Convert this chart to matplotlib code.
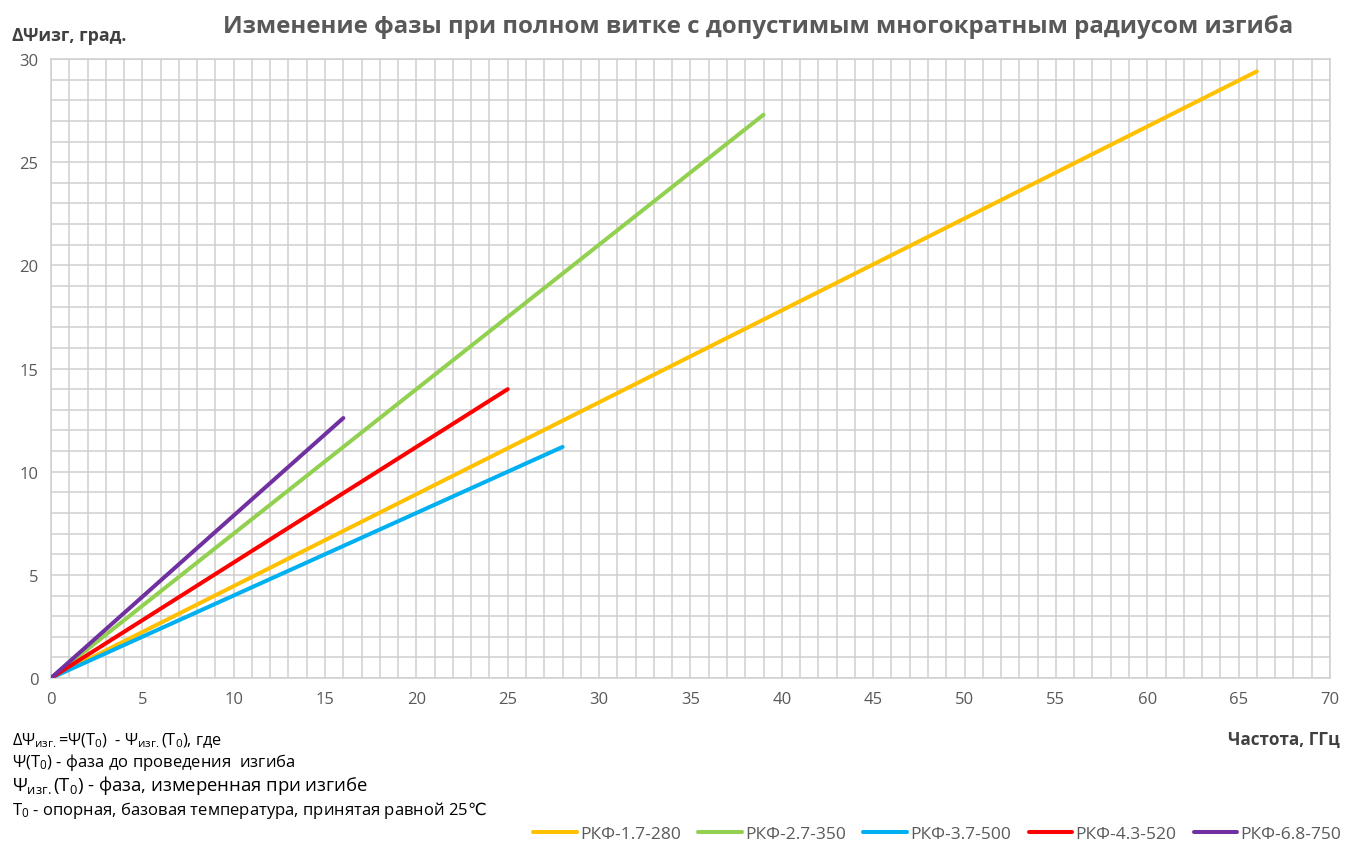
import matplotlib.pyplot as plt
from matplotlib.ticker import MultipleLocator

plt.rcParams['font.family'] = ['Open Sans', 'DejaVu Sans']

# =====================================================
# Data
# =====================================================

names = ['РКФ-1.7-280', 'РКФ-2.7-350', 'РКФ-3.7-500', 'РКФ-4.3-520', 'РКФ-6.8-750']
freq = [[0, 66], [0, 39], [0, 28], [0, 25], [0, 16]]
phase = [[0, 29.4], [0, 27.3], [0, 11.2], [0, 14.0], [0, 12.6]]
colors = ['#FFC000', '#92D050', '#00B0F0', '#FF0000', '#7030A0']

x_ticks = list(range(0, 71, 5))
y_ticks = list(range(0, 31, 5))

# =====================================================
# Plot
# =====================================================

fig = plt.figure(figsize=(13.52, 8.45), dpi=100)
ax = fig.add_axes([0.0377, 0.1964, 0.946, 0.7326])

for fx, ph, name, c in zip(freq, phase, names, colors):
    ax.plot(fx, ph, color=c, linewidth=2.9, label=name,
            solid_capstyle='round', zorder=3)

ax.set_xlim(0, 70)
ax.set_ylim(0, 30)
ax.set_xticks(x_ticks)
ax.set_yticks(y_ticks)
ax.xaxis.set_minor_locator(MultipleLocator(1))
ax.yaxis.set_minor_locator(MultipleLocator(1))
ax.grid(which='both', color='#cfcfcf', linewidth=1.1)
ax.tick_params(which='both', length=0, labelsize=12, colors='#595959', pad=9)
for s in ax.spines.values():
    s.set_color('#cfcfcf')
    s.set_linewidth(1.1)

# =====================================================
# Texts
# =====================================================

fig.text(0.561, 0.968, 'Изменение фазы при полном витке с допустимым многократным радиусом изгиба',
         ha='center', va='center', fontsize=17.3, fontweight='bold', color='#595959')
fig.text(0.009, 0.957, 'ΔΨизг, град.', ha='left', va='center',
         fontsize=12.8, fontweight='bold', color='#404040')
fig.text(0.991, 0.124, 'Частота, ГГц', ha='right', va='center',
         fontsize=12.3, fontweight='bold', color='#404040')

sub = r'$\mathregular{_{изг.}}$'
zero = r'$\mathregular{_{0}}$'
fig.text(0.009, 0.124, 'ΔΨ' + sub + '=Ψ(T' + zero + ')  - Ψ' + sub + '(T' + zero + '), где',
         ha='left', va='center', fontsize=11.8, color='black')
fig.text(0.009, 0.098, 'Ψ(T' + zero + ') - фаза до проведения  изгиба',
         ha='left', va='center', fontsize=12, color='black')
fig.text(0.009, 0.071, 'Ψ' + sub + '(T' + zero + ') - фаза, измеренная при изгибе',
         ha='left', va='center', fontsize=13.3, color='black')
fig.text(0.009, 0.041, 'T' + zero + ' - опорная, базовая температура, принятая равной 25' + r'$\mathrm{℃}$',
         ha='left', va='center', fontsize=12, color='black')

leg = fig.legend(loc='center right', bbox_to_anchor=(1.0, 0.012), ncol=5,
                 frameon=False, fontsize=12.5, handlelength=2.5, columnspacing=1.0,
                 handletextpad=0.2, borderaxespad=0.2)
for t in leg.get_texts():
    t.set_color('#595959')

plt.savefig('out.png', dpi=100)
